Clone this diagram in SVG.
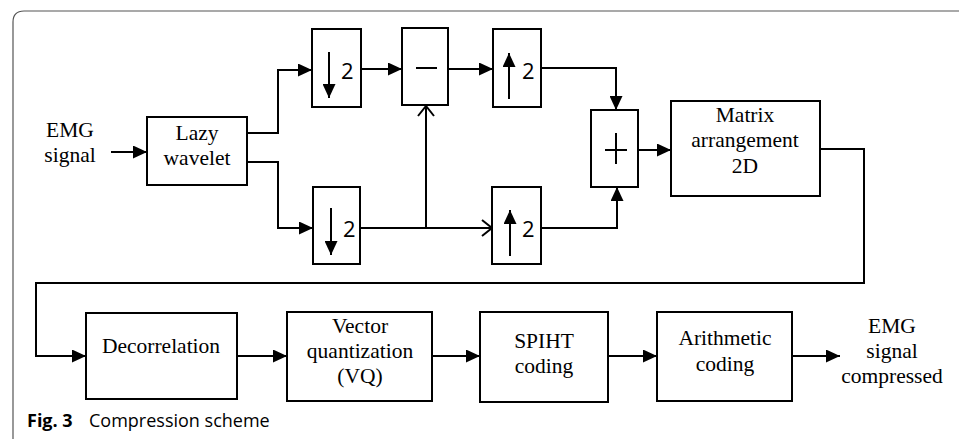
<svg xmlns="http://www.w3.org/2000/svg" width="959" height="439" viewBox="0 0 959 439">
<style>
.box{fill:#fff;stroke:#000;stroke-width:2}
.c{fill:none;stroke:#000;stroke-width:2}
.t{font-family:"Liberation Serif","Times New Roman",serif;font-size:21.5px;fill:#000;text-anchor:middle}
.n{font-family:"Open Sans","DejaVu Sans",sans-serif;font-size:22px;fill:#000}
.cap{font-family:"Open Sans","DejaVu Sans",sans-serif;font-size:18px;fill:#000}
</style>
<defs>
<marker id="af" markerUnits="userSpaceOnUse" markerWidth="14" markerHeight="13" refX="14" refY="6.5" orient="auto"><path d="M0,0 L14,6.5 L0,13 z" fill="#000"/></marker>
<marker id="ao" markerUnits="userSpaceOnUse" markerWidth="12" markerHeight="18" refX="11" refY="9" orient="auto"><path d="M1,1 L11,9 L1,17" fill="none" stroke="#000" stroke-width="2"/></marker>
</defs>
<path d="M13,439 V22 Q13,11 24,11 H959" fill="none" stroke="#555" stroke-width="1.2"/>
<g id="connectors">
<path class="c" d="M111,152 H147" marker-end="url(#af)"/>
<path class="c" d="M247,133 H278 V70 H312" marker-end="url(#af)"/>
<path class="c" d="M247,162 H278 V228 H313" marker-end="url(#af)"/>
<path class="c" d="M361,69 H402" marker-end="url(#af)"/>
<path class="c" d="M448,69 H493" marker-end="url(#af)"/>
<path class="c" d="M541,68 H616 V110" marker-end="url(#af)"/>
<path class="c" d="M360,228 H492" marker-end="url(#ao)"/>
<path class="c" d="M426,228 V106" marker-end="url(#ao)"/>
<path class="c" d="M541,228 H617 V187" marker-end="url(#af)"/>
<path class="c" d="M638,150 H671" marker-end="url(#af)"/>
<path class="c" d="M820,149 H864 V283 H36 V356 H86" marker-end="url(#af)"/>
<path class="c" d="M237,356 H287" marker-end="url(#af)"/>
<path class="c" d="M432,356 H480" marker-end="url(#af)"/>
<path class="c" d="M608,356 H657" marker-end="url(#af)"/>
<path class="c" d="M792,356 H840" marker-end="url(#af)"/>
</g>
<g id="input">
<text class="t" x="70" y="137">EMG</text>
<text class="t" x="70" y="162">signal</text>
</g>
<g id="lazy">
<rect class="box" x="147" y="117" width="100" height="68"/>
<text class="t" x="197" y="140">Lazy</text>
<text class="t" x="197" y="165">wavelet</text>
</g>
<g id="down1">
<rect class="box" x="312" y="29" width="49" height="78"/>
<path class="c" d="M329,52 V98" marker-end="url(#af)"/>
<text class="n" x="341" y="79">2</text>
</g>
<g id="minus">
<rect class="box" x="402" y="28" width="46" height="77"/>
<path class="c" d="M416,68 H437" stroke-width="2.5"/>
</g>
<g id="up1">
<rect class="box" x="493" y="29" width="48" height="78"/>
<path class="c" d="M509,99 V53" marker-end="url(#af)"/>
<text class="n" x="522" y="79">2</text>
</g>
<g id="down2">
<rect class="box" x="313" y="187" width="47" height="77"/>
<path class="c" d="M331,208 V255" marker-end="url(#af)"/>
<text class="n" x="343" y="237">2</text>
</g>
<g id="up2">
<rect class="box" x="492" y="187" width="49" height="77"/>
<path class="c" d="M510,256 V210" marker-end="url(#af)"/>
<text class="n" x="522" y="237">2</text>
</g>
<g id="plus">
<rect class="box" x="591" y="110" width="47" height="77"/>
<path class="c" d="M605,150 H627 M616,133 V164"/>
</g>
<g id="matrix">
<rect class="box" x="671" y="101" width="149" height="95"/>
<text class="t" x="745" y="122">Matrix</text>
<text class="t" x="745" y="147">arrangement</text>
<text class="t" x="745" y="173">2D</text>
</g>
<g id="decorrelation">
<rect class="box" x="86" y="313" width="151" height="86"/>
<text class="t" x="161" y="353">Decorrelation</text>
</g>
<g id="vq">
<rect class="box" x="287" y="312" width="145" height="89"/>
<text class="t" x="360" y="333">Vector</text>
<text class="t" x="360" y="358">quantization</text>
<text class="t" x="360" y="383">(VQ)</text>
</g>
<g id="spiht">
<rect class="box" x="480" y="312" width="128" height="90"/>
<text class="t" x="544" y="348">SPIHT</text>
<text class="t" x="544" y="373">coding</text>
</g>
<g id="arith">
<rect class="box" x="657" y="312" width="135" height="89"/>
<text class="t" x="725" y="345">Arithmetic</text>
<text class="t" x="725" y="371">coding</text>
</g>
<g id="output">
<text class="t" x="892" y="333">EMG</text>
<text class="t" x="892" y="358">signal</text>
<text class="t" x="892" y="383">compressed</text>
</g>
<g id="caption">
<text class="cap" x="27" y="427" font-weight="bold" font-size="19.5">Fig. 3</text>
<text class="cap" x="89" y="427">Compression scheme</text>
</g>
</svg>
